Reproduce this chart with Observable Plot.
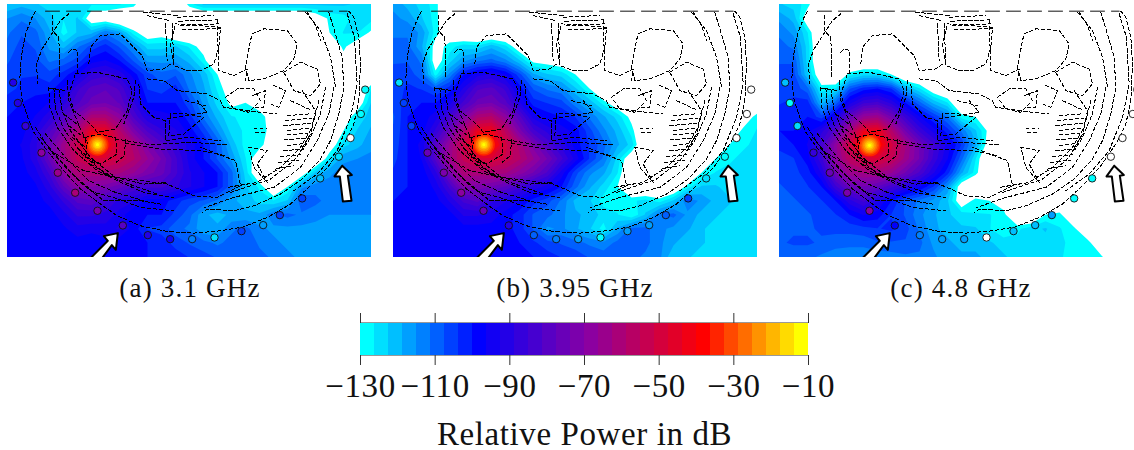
<!DOCTYPE html>
<html><head><meta charset="utf-8">
<script src="https://cdn.jsdelivr.net/npm/d3@7"></script>
<script src="https://cdn.jsdelivr.net/npm/@observablehq/plot@0.6"></script>
<style>
html,body{margin:0;padding:0;background:#fff;overflow:hidden}
#page{position:relative;width:1134px;height:450px;overflow:hidden}
.pan{position:absolute;top:4px}
.cap{position:absolute;top:273px;width:300px;text-align:center;font:27px "Liberation Serif",serif;letter-spacing:1.2px;color:#111}
#bar{position:absolute;left:0;top:300px}
svg{overflow:hidden;display:block}
</style></head><body><div id="page"></div>
<script>
const W=-140;
const captions=["(a) 3.1 GHz","(b) 3.95 GHz","(c) 4.8 GHz"];
const panelLeft=[7,393,779];
const captionCentre=[190,575,961];
const tickValues=[-130,-110,-90,-70,-50,-30,-10];
const bandEdges=d3.range(0,32).map(i=>-130+i*3.75);
const paletteIndex=[0,8,16,24,31];
const paletteStops=["#00ffff","#0000ff","#8c00a0","#ff0000","#ffff00"];

// dB field per panel: 27 columns (x=21..1113 step 42), 19 rows (y=12..768 step 42)
const fieldA=[
[-122,-120,-122,-124,-125,-126,-126,-126,-126,-128,W,W,W,-128,-122,-122,-122,-122,-122,-122,-122,-122,-122,-122,-122,-123,-124],
[-115,-112,-115,-121,-126,-122,-135,-135,W,W,W,W,W,W,W,W,W,W,W,W,W,W,-135,-129,-128,-124,-125],
[-112,-108,-110,-118,-128,-122,-120,-112,-117,-128,-135,-133,W,W,W,W,W,W,W,W,W,W,W,-130,-126,-126,-131],
[-110,-106,-108,-116,-120,-112,-106,-102,-108,-115,-124,-124,-122,-127,-133,W,W,W,W,W,W,W,W,-135,-129,-134,W],
[-108,-105,-106,-112,-110,-106,-98,-96,-100,-108,-116,-116,-116,-120,-128,W,W,W,W,W,W,W,W,W,-132,W,W],
[-106,-104,-104,-106,-102,-96,-88,-86,-90,-98,-106,-110,-108,-114,-120,-130,W,W,W,W,W,W,W,W,W,W,W],
[-105,-103,-102,-102,-96,-86,-80,-78,-82,-92,-104,-106,-102,-112,-118,-127,-135,W,W,W,W,W,W,W,W,W,-126],
[-102,-100,-98,-96,-90,-82,-76,-74,-78,-88,-100,-100,-100,-106,-116,-124,-132,-130,-133,W,W,W,W,W,W,-135,-122],
[-100,-99,-96,-90,-82,-72,-60,-60,-68,-82,-92,-94,-96,-102,-112,-120,-126,-127,-128,-133,W,W,W,W,-135,-126,-120],
[-99,-98,-92,-82,-72,-60,-44,-44,-58,-72,-82,-88,-92,-98,-105,-115,-124,-127,-128,-132,W,W,W,W,-130,-122,-118],
[-98,-96,-90,-76,-64,-52,-38,-38,-52,-60,-72,-80,-88,-94,-100,-108,-120,-128,-128,-135,W,W,W,-135,-124,-120,-116],
[-98,-97,-90,-76,-64,-54,-48,-48,-52,-58,-66,-74,-84,-94,-100,-108,-116,-126,-135,W,W,W,W,-126,-116,-115,-114],
[-99,-98,-94,-84,-68,-60,-60,-60,-62,-66,-72,-76,-84,-92,-96,-100,-110,-124,-138,W,W,-135,-122,-116,-113,-113,-113],
[-100,-99,-97,-90,-78,-68,-70,-72,-76,-82,-84,-84,-88,-92,-96,-100,-110,-122,-127,-138,-130,-116,-113,-113,-113,-113,-113],
[-100,-100,-98,-95,-88,-80,-78,-84,-90,-92,-98,-98,-102,-106,-108,-112,-118,-120,-124,-126,-122,-108,-110,-113,-114,-114,-114],
[-100,-100,-100,-98,-94,-88,-88,-90,-94,-100,-100,-100,-105,-110,-118,-120,-118,-118,-118,-112,-110,-112,-114,-115,-115,-115,-115],
[-100,-100,-100,-99,-97,-94,-95,-94,-92,-98,-104,-105,-110,-112,-118,-118,-112,-110,-114,-116,-116,-116,-116,-116,-116,-116,-116],
[-100,-100,-100,-100,-99,-98,-99,-98,-99,-100,-100,-102,-105,-108,-110,-112,-110,-108,-112,-114,-116,-117,-118,-118,-118,-118,-118],
[-100,-100,-100,-100,-100,-100,-100,-100,-100,-100,-100,-101,-102,-104,-106,-108,-108,-108,-110,-112,-114,-116,-117,-118,-118,-118,-118]];
const fieldB=[
[-116,-120,-124,-128,W,W,W,W,W,W,W,W,W,W,W,W,W,W,W,W,W,W,W,W,W,W,W],
[-114,-116,-122,-128,W,W,W,W,W,W,W,W,W,W,W,W,W,W,W,W,W,W,W,W,W,W,W],
[-112,-112,-116,-128,-135,W,W,W,W,W,W,W,W,W,W,W,W,W,W,W,W,W,W,W,W,W,W],
[-110,-110,-118,-133,-128,-124,-125,-120,-125,-135,W,W,W,W,W,W,W,W,W,W,W,W,W,W,W,W,W],
[-108,-108,-112,-135,-124,-116,-112,-110,-114,-122,-132,-133,-135,W,W,W,W,W,W,W,W,W,W,W,W,W,W],
[-106,-105,-110,-128,-114,-100,-94,-92,-96,-106,-118,-122,-124,-130,W,W,W,W,W,W,W,W,W,W,W,W,W],
[-106,-103,-104,-108,-102,-92,-82,-80,-86,-98,-108,-112,-114,-122,-130,W,W,W,W,W,W,W,W,W,W,W,W],
[-106,-102,-100,-100,-94,-84,-76,-74,-80,-92,-102,-104,-106,-114,-120,-128,-135,W,W,W,W,W,W,W,W,W,W],
[-108,-100,-99,-94,-84,-72,-60,-58,-68,-80,-94,-98,-100,-104,-112,-118,-124,-132,W,W,W,W,W,W,W,-136,-127],
[-107,-100,-98,-88,-76,-60,-44,-42,-56,-72,-84,-90,-94,-98,-106,-114,-120,-128,W,W,W,W,W,W,-138,-128,-126],
[-106,-100,-95,-80,-66,-52,-36,-36,-50,-60,-72,-82,-90,-98,-104,-110,-118,-124,W,W,W,W,W,W,-130,-127,-125],
[-105,-100,-96,-80,-64,-54,-48,-48,-52,-58,-66,-74,-84,-94,-104,-112,-124,-136,W,W,W,W,W,-130,-127,-125,-124],
[-103,-100,-99,-90,-72,-60,-60,-60,-62,-68,-74,-82,-94,-106,-114,-118,-126,W,W,W,W,W,-130,-126,-125,-124,-124],
[-101,-100,-100,-95,-84,-70,-72,-74,-78,-84,-90,-94,-100,-110,-118,-124,-130,W,W,W,-138,-128,-122,-122,-124,-124,-124],
[-100,-100,-100,-98,-92,-84,-80,-88,-92,-96,-102,-106,-112,-120,-122,-128,-128,-127,-125,-128,-122,-112,-116,-120,-122,-124,-124],
[-100,-100,-100,-100,-98,-92,-92,-94,-98,-102,-108,-110,-114,-118,-120,-124,-126,-130,-122,-112,-110,-116,-120,-122,-124,-124,-124],
[-100,-100,-100,-100,-100,-98,-98,-98,-98,-102,-108,-116,-114,-118,-122,-128,-118,-110,-110,-114,-116,-118,-122,-124,-124,-124,-124],
[-100,-100,-100,-100,-100,-100,-100,-100,-100,-100,-103,-106,-108,-110,-112,-114,-110,-108,-110,-114,-118,-122,-122,-124,-124,-124,-124],
[-100,-100,-100,-100,-100,-100,-100,-100,-100,-100,-100,-102,-104,-105,-108,-109,-109,-110,-112,-114,-122,-122,-124,-124,-124,-124,-124]];
const fieldC=[
[-122,-124,-128,W,W,W,W,W,W,W,W,W,W,W,W,W,W,W,W,W,W,W,W,W,W,W,W],
[-116,-120,-135,W,W,W,W,W,W,W,W,W,W,W,W,W,W,W,W,W,W,W,W,W,W,W,W],
[-112,-116,-126,W,W,W,W,W,W,W,W,W,W,W,W,W,W,W,W,W,W,W,W,W,W,W,W],
[-110,-112,-124,W,W,W,W,W,W,W,W,W,W,W,W,W,W,W,W,W,W,W,W,W,W,W,W],
[-108,-108,-124,W,W,W,W,W,W,W,W,W,W,W,W,W,W,W,W,W,W,W,W,W,W,W,W],
[-106,-106,-122,-136,W,-128,-124,-124,-130,W,W,W,W,W,W,W,W,W,W,W,W,W,W,W,W,W,W],
[-106,-105,-110,-128,-126,-108,-102,-100,-104,-118,-126,-135,W,W,W,W,W,W,W,W,W,W,W,W,W,W,W],
[-104,-103,-102,-120,-110,-94,-86,-84,-90,-100,-110,-120,-126,W,W,W,W,W,W,W,W,W,W,W,W,W,W],
[-102,-101,-100,-106,-94,-78,-66,-64,-74,-86,-96,-104,-112,-128,-130,W,W,W,W,W,W,W,W,W,W,W,W],
[-100,-100,-98,-90,-80,-62,-44,-42,-58,-74,-86,-94,-102,-112,-122,-132,W,W,W,W,W,W,W,W,W,W,W],
[-102,-100,-96,-84,-68,-50,-34,-34,-50,-62,-74,-84,-94,-104,-118,-135,W,W,W,W,W,W,W,W,W,W,W],
[-106,-104,-98,-86,-68,-56,-50,-48,-54,-64,-74,-86,-96,-110,-126,W,W,W,W,W,W,W,W,W,W,W,W],
[-106,-105,-102,-92,-74,-64,-62,-62,-66,-74,-82,-92,-102,-118,-128,W,W,W,W,W,W,W,W,W,W,W,W],
[-108,-106,-104,-100,-86,-76,-74,-78,-84,-90,-96,-104,-116,-135,W,W,W,W,W,W,W,W,W,W,W,W,W],
[-108,-108,-106,-104,-100,-90,-84,-92,-100,-108,-112,-116,-122,-135,-128,-130,-134,W,W,W,W,W,W,W,W,W,W],
[-108,-108,-108,-106,-104,-100,-96,-98,-104,-108,-114,-118,-122,-124,-126,-126,-128,W,W,-130,-128,W,W,W,W,W,W],
[-108,-108,-108,-107,-106,-106,-105,-104,-103,-106,-112,-118,-120,-122,-122,-126,-130,-127,-124,-122,-126,-128,W,W,W,W,W],
[-108,-107,-107,-108,-110,-110,-110,-108,-108,-108,-110,-116,-118,-120,-120,-122,-124,-125,-124,-124,-125,-128,-127,W,W,W,W],
[-110,-110,-110,-112,-113,-114,-114,-114,-113,-112,-112,-114,-118,-118,-118,-120,-122,-124,-124,-125,-126,-127,-127,-129,W,W,W]];
const fields=[fieldA,fieldB,fieldC];

// antennas
const antennaX=[38,52,75,123,172,224,291,367,442,509,575,642,723,788,838,905,959,1015,1050,1081,1094];
const antennaY=[246,307,376,456,516,576,630,674,703,715,715,710,691,673,643,593,533,468,412,340,267];
const antennaA=[-92,-90,-86,-68,-64,-62,-72,-80,-92,-95,-112,-125,-106,-118,-106,-106,-122,-125,W,-128,-128];
const antennaB=[-126,-105,-105,-74,-72,-70,-76,-92,-108,-112,-118,-130,-116,-118,-108,-106,-125,-128,W,W,W];
const antennaC=[-122,-128,-124,-86,-74,-72,-70,-98,-112,-118,-118,W,-120,-122,-118,-128,-128,W,W,W,W];
const antennaDb=[antennaA,antennaB,antennaC];

// hot spot
const hotX=[291,292,291], hotY=[432,432,434];
const hotDb=[-36,-32,-28,-24,-20,-16,-12];
const hotR=[11,9.5,8,6.4,4.8,3.2,1.6];

// dashed anatomy outlines
const anatomyTop=[[135,32],[1040,32]];
const anatomy=[
[[105,32],[95,50],[75,100],[62,170],[58,235],[65,300],[80,345],[100,395],[140,450],[190,510],[240,565],[300,610],[350,645],[420,675],[500,692],[580,697],[660,690],[730,678],[800,650],[870,610],[930,555],[985,495],[1030,430],[1060,370],[1075,300],[1080,190],[1075,110],[1060,50],[1045,32]],
[[985,35],[1000,85],[1025,170],[1030,260],[1015,340],[990,420],[960,475],[905,535],[840,580],[760,615],[700,630],[620,625],[605,635]],
[[1040,40],[1062,110],[1070,250],[1050,350],[1010,450],[950,520],[880,570]],
[[205,40],[180,60],[125,145],[108,190],[112,250]],
[[155,45],[155,90],[175,110],[178,230]],
[[1000,260],[985,340],[950,420],[900,500],[820,560],[700,590],[612,620]],
[[975,260],[960,340],[925,420],[880,480],[810,535],[690,575]],
[[955,300],[935,380],[900,440],[840,500],[770,545],[680,560]],
[[915,35],[960,90],[990,170],[1005,260]],
[[145,260],[148,320],[170,380],[220,450],[290,510],[350,540],[430,575],[520,590]],
[[160,262],[165,325],[190,385],[245,460],[315,520],[385,550],[470,580]],
[[175,265],[185,330],[210,390],[270,470],[345,530],[430,550],[500,545]],
[[200,240],[205,300],[240,385],[262,430]],
[[105,380],[150,450],[215,520],[280,575],[340,590],[420,620],[520,630]],
[[120,410],[180,480],[240,545],[310,600],[420,600],[480,610]],
[[135,400],[195,470],[265,540],[345,575],[430,600]],
[[145,262],[195,270]],
[[205,155],[215,145],[232,150],[232,215]],
[[265,190],[270,140],[300,105],[360,100],[385,125],[425,165],[440,210],[490,205],[510,190]],
[[225,220],[290,215],[380,235],[395,270],[380,330],[345,385],[290,395],[270,370],[220,330],[205,280],[225,220]],
[[405,240],[400,290],[370,370]],
[[255,410],[300,400],[345,412],[350,460],[300,490],[260,470],[255,410]],
[[375,415],[372,465],[340,490]],
[[345,415],[450,432],[570,425],[680,432]],
[[375,428],[480,445],[600,450],[675,465]],
[[150,450],[250,510],[350,530],[500,550],[580,585],[650,590],[720,555],[705,480],[600,440]],
[[415,250],[420,310],[460,350],[495,360],[495,420],[560,410],[660,420]],
[[440,235],[490,240],[530,270],[620,280],[660,300],[670,320],[780,335],[830,340]],
[[510,340],[505,405],[550,400],[610,350],[560,340],[510,340]],
[[500,355],[620,335],[590,300]],[[555,300],[615,315]],
[[525,70],[660,80],[655,140],[640,190],[600,210],[560,210],[520,195],[510,130],[525,70]],
[[495,70],[500,180]],[[515,70],[520,190]],
[[650,60],[655,210],[700,225],[740,205],[735,240]],
[[755,100],[790,85],[860,90],[890,130],[880,175],[850,210],[790,235],[745,240],[735,200],[750,120],[755,100]],
[[850,215],[900,185],[950,205],[960,250],[930,285],[880,270],[850,215]],
[[675,290],[715,262],[760,265],[780,300],[745,335],[700,325],[675,290]],
[[755,285],[795,270],[790,320],[760,320]],[[820,255],[855,270],[835,320],[810,310]],
[[745,440],[800,450],[770,490],[800,545],[760,500],[745,440]],
[[760,385],[800,385]],[[765,395],[800,395]],
[[920,35],[945,75],[960,120]],
[[430,35],[530,45]],[[530,50],[640,45]],[[535,62],[650,58]],[[540,75],[655,70]],[[545,88],[660,84]],[[440,45],[505,60]],
[[860,345],[925,340]],[[855,360],[935,352]],[[850,375],[930,368]],[[860,390],[925,382]],[[860,402],[920,398]],[[850,418],[925,412]],[[860,435],[915,428]],[[850,450],[910,445]],[[840,468],[900,462]],[[835,485],[895,478]],[[825,505],[880,495]],[[870,300],[935,330]],[[905,270],[945,330],[930,400],[900,450]],
[[190,340],[235,375]],[[205,375],[250,410]],[[215,410],[255,440]],[[235,445],[285,490]],[[270,490],[330,525]]
];
const anatomyRows=anatomy.flatMap((pts,id)=>pts.map(([x,y])=>({x,y,id})));

// white arrows
const arrowDiag=[[352,697],[310,706],[322,720],[252,790],[280,805],[334,733],[346,747],[352,697]];
const arrowUp=[[1025,495],[1002,527],[1018,527],[1027,602],[1053,600],[1042,525],[1054,523],[1025,495]];

const ramp=d3.scaleLinear().domain(paletteIndex).range(paletteStops);
const colorScale={type:"threshold",domain:bandEdges,range:["#ffffff",...d3.range(32).map(i=>ramp(i))]};
const page=document.getElementById("page");
const font='"Liberation Serif",serif';

fields.forEach((rows,p)=>{
  const hot=hotDb.map((v,i)=>({x:hotX[p],y:hotY[p],v,r:hotR[i]}));
  const ants=antennaX.map((x,i)=>({x,y:antennaY[i],v:antennaDb[p][i]}));
  const fig=Plot.plot({
    width:364,height:253,margin:0,
    x:{domain:[21,1113],range:[0,364],axis:null},
    y:{domain:[12,770],range:[0,253],axis:null},
    r:{type:"identity"},
    color:colorScale,
    marks:[
      Plot.contour(rows.flat(),{x1:0,x2:1134,y1:-9,y2:789,width:27,height:19,value:Plot.identity,fill:"value",thresholds:bandEdges,clip:true}),
      Plot.dot(hot,{x:"x",y:"y",r:"r",fill:"v"}),
      Plot.line(anatomyRows,{x:"x",y:"y",z:"id",stroke:"#000",strokeWidth:1,strokeDasharray:"3.5,2.5",shapeRendering:"crispEdges",clip:true}),
      Plot.line(anatomyTop,{x:d=>d[0],y:d=>d[1],stroke:"#111",strokeWidth:1,strokeDasharray:"14,7",clip:true}),
      Plot.dot(ants,{x:"x",y:"y",r:3.7,fill:"v",stroke:"#111",strokeWidth:0.9}),
      Plot.line(arrowDiag,{x:d=>d[0],y:d=>d[1],fill:"white",stroke:"black",strokeWidth:2,clip:true}),
      Plot.line(arrowUp,{x:d=>d[0],y:d=>d[1],fill:"white",stroke:"black",strokeWidth:2,clip:true})
    ]
  });
  fig.classList.add("pan");
  fig.style.left=panelLeft[p]+"px";
  page.appendChild(fig);
  const c=document.createElement("div");
  c.className="cap";c.textContent=captions[p];
  c.style.left=(captionCentre[p]-150)+"px";
  page.appendChild(c);
});

const bands=bandEdges.map(lo=>({lo,hi:lo+3.75}));
const bar=Plot.plot({
  width:1134,height:150,marginLeft:360,marginRight:326,marginTop:22,marginBottom:95,
  style:{fontFamily:font,fontSize:"32px",color:"#111",overflow:"hidden",letterSpacing:"0.6px"},
  x:{domain:[-130,-10]},
  y:{domain:[0,1],axis:null},
  color:colorScale,
  marks:[
    Plot.rectY(bands,{x1:"lo",x2:"hi",y1:0,y2:1,fill:"lo",inset:0}),
    Plot.ruleY([0,1],{stroke:"#999",strokeWidth:1.2}),
    Plot.axisX({anchor:"bottom",ticks:tickValues,tickSize:10,tickPadding:8,fontSize:33,stroke:"#333",label:"Relative Power in dB",labelArrow:"none",labelAnchor:"center",labelOffset:89,tickFormat:d=>"−"+Math.abs(d)}),
    Plot.axisX({anchor:"top",ticks:tickValues,tickSize:10,tickFormat:()=>"",label:null,stroke:"#333"})
  ]
});
bar.id="bar";
page.appendChild(bar);
</script></body></html>
